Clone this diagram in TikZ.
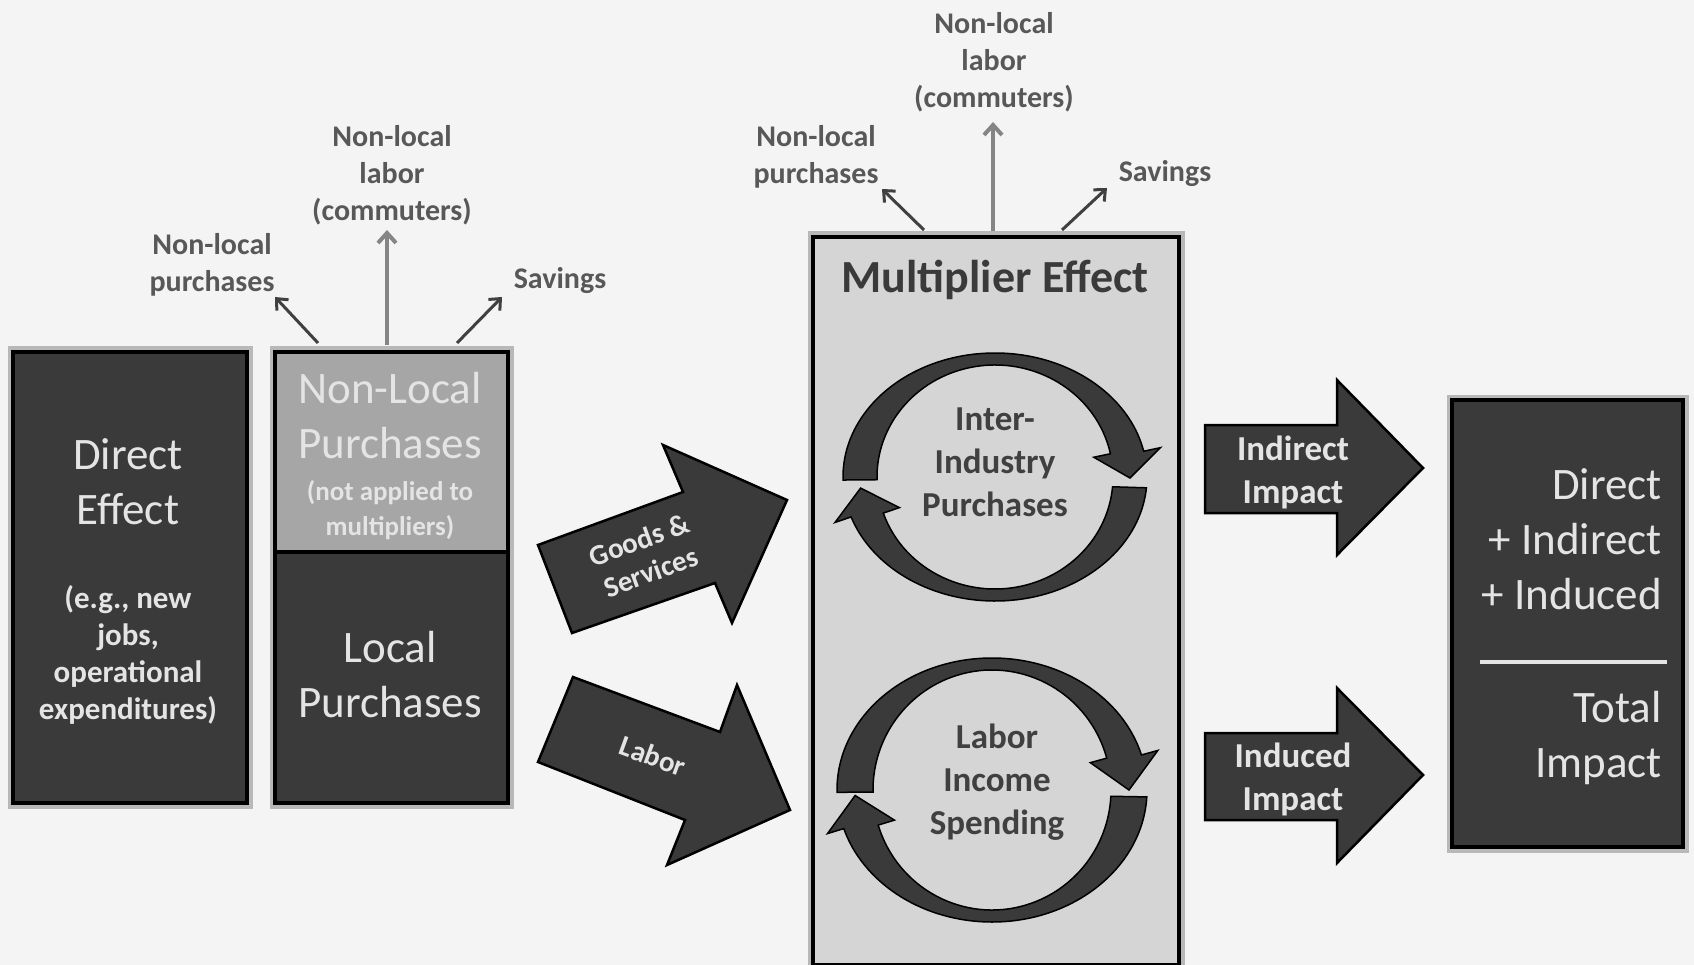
\documentclass[tikz,border=0pt]{standalone}
\usepackage{fontspec}
\setmainfont{Carlito}
\usetikzlibrary{arrows.meta,backgrounds}
\definecolor{bg}{HTML}{F4F4F4}
\definecolor{darkbox}{HTML}{3A3A3A}
\definecolor{midbox}{HTML}{A6A6A6}
\definecolor{lightbox}{HTML}{D5D5D5}
\definecolor{lighttext}{HTML}{E4E4E4}
\definecolor{labeltext}{HTML}{585858}
\definecolor{rimgray}{HTML}{B8B8B8}
\definecolor{arrowdark}{HTML}{404040}
\definecolor{arrowgray}{HTML}{858585}
\newcommand\cycarr[9]{%
  \filldraw[cyc] ({#1+#3*cos(#7)},{#2+#4*sin(#7)})
    arc[start angle=#7,end angle=#8,x radius=#3,y radius=#4]
    -- ({#1+(#3+17)*cos(#8)},{#2+(#4+17)*sin(#8)})
    -- ({#1+(#3+#5)/2*cos(#9)},{#2+(#4+#6)/2*sin(#9)})
    -- ({#1+(#5-17)*cos(#8)},{#2+(#6-17)*sin(#8)})
    -- ({#1+#5*cos(#8)},{#2+#6*sin(#8)})
    arc[start angle=#8,end angle=#7,x radius=#5,y radius=#6]
    -- cycle;}
\begin{document}
\begin{tikzpicture}[x=1pt,y=-1pt,
  box/.style={draw=black, line width=4pt, inner sep=0pt, anchor=north west},
  dbox/.style={box, fill=darkbox},
  boxtxt/.style={font=\fontsize{45}{55}\selectfont, text=lighttext, align=center, inner sep=0pt},
  subtxt/.style={font=\bfseries\fontsize{31}{37}\selectfont, text=lighttext, align=center, inner sep=0pt},
  nltxt/.style={font=\bfseries\fontsize{27}{35}\selectfont, text=lighttext, align=center, inner sep=0pt},
  titletxt/.style={font=\bfseries\fontsize{46}{50}\selectfont, text=darkbox, inner sep=0pt},
  cyctxt/.style={font=\bfseries\fontsize{35}{43}\selectfont, text=arrowdark, align=center, inner sep=0pt},
  arrtxt/.style={font=\bfseries\fontsize{29}{34}\selectfont, text=lighttext, align=center, inner sep=0pt},
  imptxt/.style={font=\bfseries\fontsize{35}{43}\selectfont, text=lighttext, align=center, inner sep=0pt},
  lbl/.style={font=\bfseries\fontsize{30}{37}\selectfont, text=labeltext, align=center, inner sep=0pt},
  bigarrow/.style={fill=darkbox, draw=black, line width=2.5pt, line join=miter},
  cyc/.style={fill=darkbox, draw=black, line width=1.5pt},
  outarrow/.style={draw=arrowdark, line width=3pt, -{Straight Barb[length=9pt,width=16pt,line width=3pt]}},
  commarrow/.style={draw=arrowgray, line width=4.5pt, -{Straight Barb[length=10pt,width=18pt,line width=4pt]}},
  rim/.style={draw=rimgray, line width=7pt}
]
\useasboundingbox (0,0) rectangle (1694,965);

% boxes
\node[dbox, minimum width=234, minimum height=451] (direct) at (11,350) {};
\node[box, fill=midbox, minimum width=233, minimum height=200] (nlp) at (273,350) {};
\node[dbox, minimum width=233, minimum height=251] (lp) at (273,550) {};
\node[box, fill=lightbox, minimum width=366, minimum height=728] (mult) at (811,235) {};
\node[dbox, minimum width=231, minimum height=447] (total) at (1450,398) {};

\begin{scope}[on background layer]
  \fill[bg] (0,0) rectangle (1694,965);
  \draw[rim] (direct.north west) rectangle (direct.south east);
  \draw[rim] (nlp.north west) rectangle (lp.south east);
  \draw[rim] (mult.north west) rectangle (mult.south east);
  \draw[rim] (total.north west) rectangle (total.south east);
\end{scope}

% box texts
\node[boxtxt] (tDirect) at (128,482) {Direct\\Effect};
\node[subtxt] (tDirectSub) at (128,655) {(e.g., new\\jobs,\\operational\\expenditures)};
\node[boxtxt] (tNL) at (390,416) {Non-Local\\Purchases};
\node[nltxt] (tNLsub) at (390,510) {(not applied to\\multipliers)};
\node[boxtxt] (tLP) at (390,675) {Local\\Purchases};
\node[titletxt, anchor=base] (tMult) at (995,293) {Multiplier Effect};
\node[boxtxt, align=right, anchor=east] (tSum) at (1662,539) {Direct\\+ Indirect\\+ Induced};
\node[boxtxt, align=right, anchor=east] (tTot) at (1662,738) {Total\\Impact};
\coordinate (sumL) at (1480,662);
\coordinate (sumR) at (1667,662);
\draw[lighttext, line width=4pt] (sumL) -- (sumR);

% cycles
\cycarr{995}{477}{152}{124}{118}{112}{178.6}{348}{360.5}
\cycarr{995}{477}{152}{124}{118}{112}{5}{161.2}{174.6}
\cycarr{992}{790}{155}{132}{119}{120}{179}{344.6}{360}
\cycarr{992}{790}{155}{132}{119}{120}{3}{163}{177.5}
\node[cyctxt] (tInter) at (995,462) {Inter-\\Industry\\Purchases};
\node[cyctxt] (tLabor) at (997,782) {Labor\\Income\\Spending};

% big arrows
\draw[bigarrow] (538,545) -- (683,492) -- (663,445) -- (787,500) -- (732,623) -- (715,583) -- (572,633) -- cycle;
\draw[bigarrow] (573,677) -- (720,732) -- (737,685) -- (790,810) -- (667,865) -- (685,820) -- (538,762) -- cycle;
\draw[bigarrow] (1205,425) -- (1337,425) -- (1337,380) -- (1423,468) -- (1337,555) -- (1337,513) -- (1205,513) -- cycle;
\draw[bigarrow] (1205,733) -- (1337,733) -- (1337,688) -- (1423,775) -- (1337,863) -- (1337,820) -- (1205,820) -- cycle;
\node[arrtxt, rotate=20] (tGoods) at (645,556) {Goods \&\\Services};
\node[arrtxt, rotate=-20] (tLab) at (653,756) {Labor};
\node[imptxt] (tIndir) at (1293,472) {Indirect\\Impact};
\node[imptxt] (tInduc) at (1293,779) {Induced\\Impact};

% leakage labels
\node[lbl] (lNLL) at (392,175) {Non-local\\labor\\(commuters)};
\node[lbl] (lNLP) at (212,265) {Non-local\\purchases};
\node[lbl, anchor=base] (lSav) at (560,289) {Savings};
\node[lbl] (rNLL) at (994,62) {Non-local\\labor\\(commuters)};
\node[lbl] (rNLP) at (816,157) {Non-local\\purchases};
\node[lbl, anchor=base] (rSav) at (1165,182) {Savings};

% leakage arrows
\coordinate (la1) at (318,343); \coordinate (la1e) at (275,297);
\coordinate (la2) at (387,345); \coordinate (la2e) at (387,230);
\coordinate (la3) at (457,343); \coordinate (la3e) at (502,297);
\coordinate (ra1) at (924,230); \coordinate (ra1e) at (882,189);
\coordinate (ra2) at (993,231); \coordinate (ra2e) at (993,122);
\coordinate (ra3) at (1062,230); \coordinate (ra3e) at (1107,188);
\draw[outarrow] (la1) -- (la1e);
\draw[commarrow] (la2) -- (la2e);
\draw[outarrow] (la3) -- (la3e);
\draw[outarrow] (ra1) -- (ra1e);
\draw[commarrow] (ra2) -- (ra2e);
\draw[outarrow] (ra3) -- (ra3e);
\end{tikzpicture}
\end{document}
